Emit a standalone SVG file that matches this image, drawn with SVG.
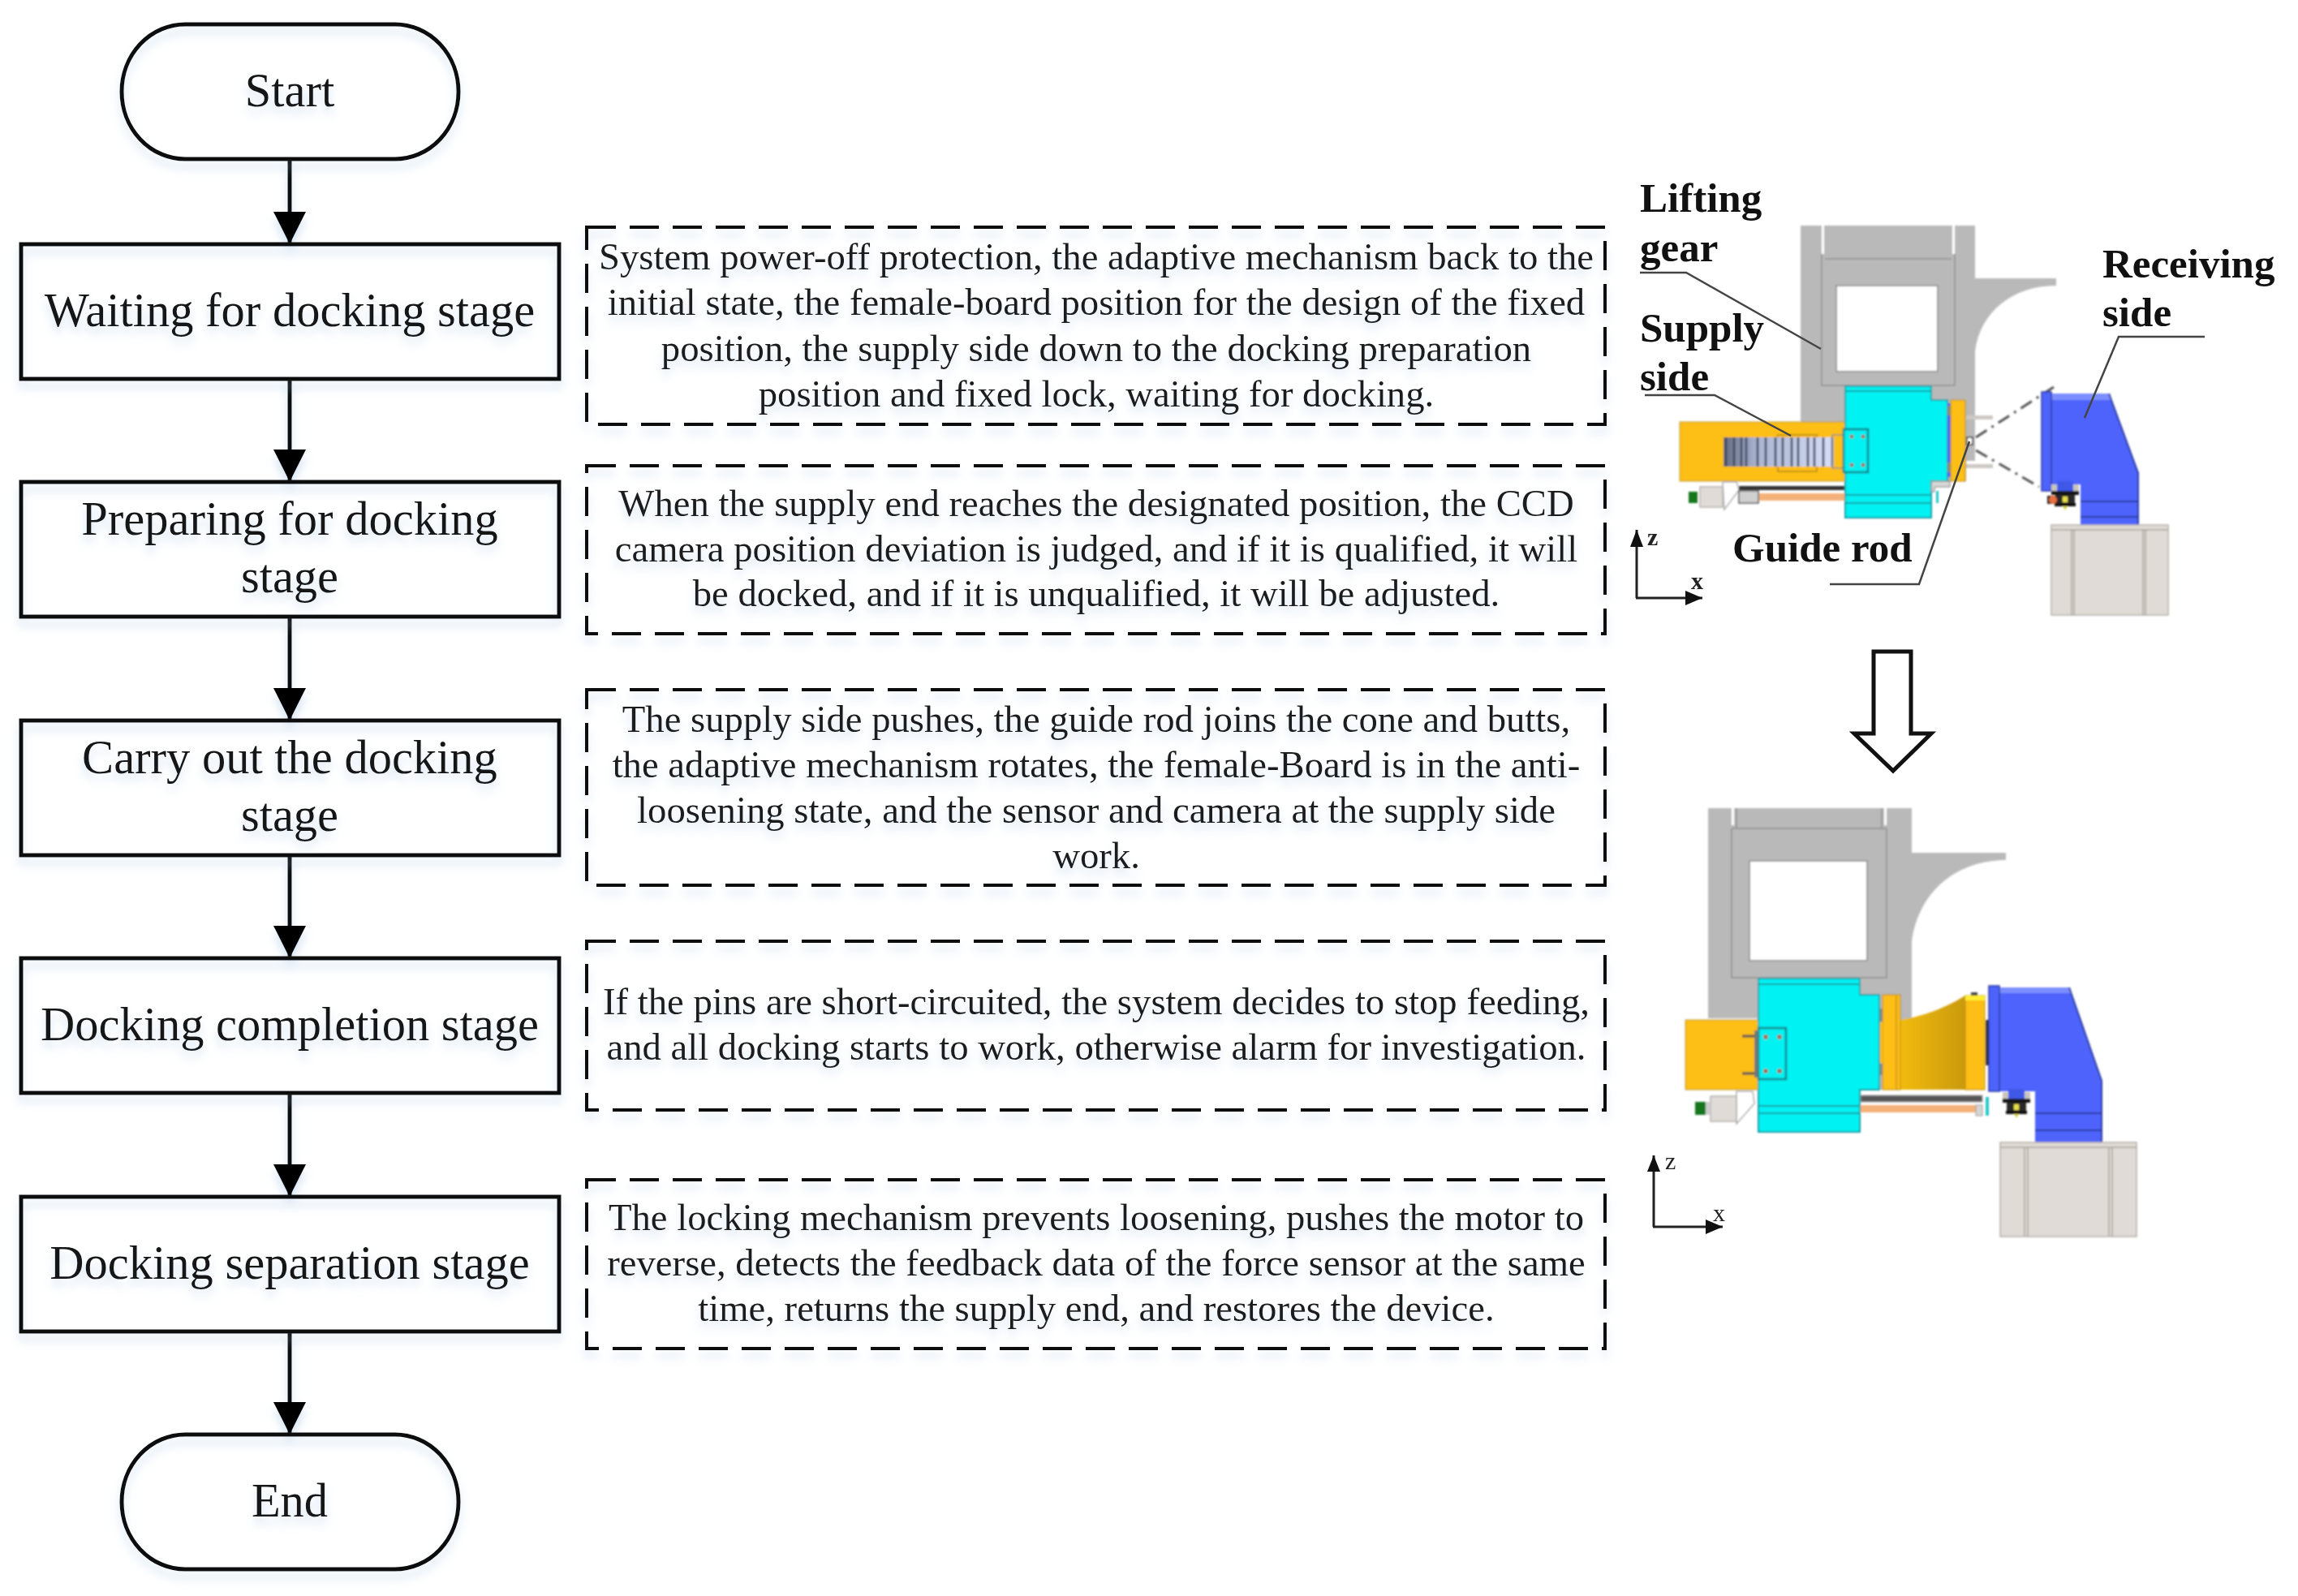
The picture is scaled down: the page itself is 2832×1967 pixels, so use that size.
<svg xmlns="http://www.w3.org/2000/svg" width="2832" height="1967" viewBox="0 0 2832 1967">
<style>
.bg{fill:#fff}
.n{fill:none;stroke:#111;stroke-width:5}
.t{font-family:"Liberation Serif","Times New Roman",serif;font-size:58.5px;fill:#161616;text-anchor:middle}
.d{font-family:"Liberation Serif","Times New Roman",serif;font-size:46.7px;fill:#1c1c1c;text-anchor:middle}
.dash{fill:none;stroke:#111;stroke-width:4;stroke-dasharray:36 17}
.c{fill:none;stroke:#111;stroke-width:5;marker-end:url(#ah)}
.lb{font-family:"Liberation Serif","Times New Roman",serif;font-size:51px;font-weight:bold;fill:#111}
.ax{font-family:"Liberation Serif","Times New Roman",serif;font-size:30px;fill:#222}
.lead{fill:none;stroke:#444;stroke-width:2.5}
.gr{fill:#b9b9b9}
.grl{fill:none;stroke:#8f8f8f;stroke-width:1.5}
.cy{fill:#00f2f2}
.cyl{fill:none;stroke:#12a0a8;stroke-width:2}
.ye{fill:#fdbe14}
.yel{fill:none;stroke:#c79512;stroke-width:1.5}
.bl{fill:#4d63fb}
.bll{fill:none;stroke:#2b3aa0;stroke-width:2}
.ba{fill:#e0dbd6;stroke:#b5b0aa;stroke-width:1.5}
.hole{fill:#a8705c}
.axl{fill:none;stroke:#222;stroke-width:3}
</style>
<defs>
<marker id="ah" markerUnits="userSpaceOnUse" markerWidth="40" markerHeight="40" refX="40" refY="20" orient="auto"><path d="M0 0L40 20L0 40Z" fill="#000"/></marker>
<marker id="ax" markerUnits="userSpaceOnUse" markerWidth="22" markerHeight="18" refX="21" refY="9" orient="auto"><path d="M0 0L21 9L0 18Z" fill="#111"/></marker>
<filter id="sh" x="-10%" y="-15%" width="120%" height="140%"><feDropShadow dx="0" dy="9" stdDeviation="6" flood-color="#9cc0e2" flood-opacity=".42"/></filter>
<filter id="shc" filterUnits="userSpaceOnUse" x="300" y="150" width="120" height="1680"><feDropShadow dx="0" dy="9" stdDeviation="6" flood-color="#9cc0e2" flood-opacity=".42"/></filter>
<filter id="soft" x="-5%" y="-5%" width="110%" height="110%"><feGaussianBlur stdDeviation=".8"/></filter>
<linearGradient id="fun" x1="0" x2="1" y1="0" y2="0"><stop offset="0" stop-color="#f2bb0e"/><stop offset="1" stop-color="#c99a08"/></linearGradient>
<linearGradient id="chain" x1="0" x2="1" y1="0" y2="0"><stop offset="0" stop-color="#646c82"/><stop offset=".3" stop-color="#aab4d0"/><stop offset="1" stop-color="#d6def8"/></linearGradient>
<g id="sensor">
<rect x="-10" y="0" width="20" height="12" fill="#4058e8"/>
<rect x="-17" y="4" width="7" height="9" fill="#c8c4be"/>
<rect x="10" y="4" width="7" height="9" fill="#c8c4be"/>
<rect x="-17" y="12" width="34" height="5" fill="#151515"/>
<rect x="-12" y="17" width="24" height="10" fill="#2a2a2a"/>
<rect x="-3" y="19" width="6" height="7" fill="#e8e04a"/>
<rect x="-13" y="27" width="26" height="4" fill="#111"/>
<path d="M-3 31H3L0 36Z" fill="#d8d050"/>
</g>
</defs>
<rect class="bg" width="2832" height="1967"/>

<g id="connectors" filter="url(#shc)">
<path class="c" d="M357 196V301"/>
<path class="c" d="M357 466V594"/>
<path class="c" d="M357 760V888"/>
<path class="c" d="M357 1054V1181"/>
<path class="c" d="M357 1347V1475"/>
<path class="c" d="M357 1641V1768"/>
</g>

<g id="start" filter="url(#sh)"><rect class="n" x="150" y="30" width="415" height="166" rx="78" ry="83"/><text class="t" x="357" y="131">Start</text></g>
<g id="waiting" filter="url(#sh)"><rect class="n" x="26" y="301" width="663" height="166"/><text class="t" x="357" y="402">Waiting for docking stage</text></g>
<g id="preparing" filter="url(#sh)"><rect class="n" x="26" y="594" width="663" height="166"/><text class="t" x="357" y="659">Preparing for docking</text><text class="t" x="357" y="730">stage</text></g>
<g id="carry" filter="url(#sh)"><rect class="n" x="26" y="888" width="663" height="166"/><text class="t" x="357" y="953">Carry out the docking</text><text class="t" x="357" y="1024">stage</text></g>
<g id="completion" filter="url(#sh)"><rect class="n" x="26" y="1181" width="663" height="166"/><text class="t" x="357" y="1282">Docking completion stage</text></g>
<g id="separation" filter="url(#sh)"><rect class="n" x="26" y="1475" width="663" height="166"/><text class="t" x="357" y="1576">Docking separation stage</text></g>
<g id="end" filter="url(#sh)"><rect class="n" x="150" y="1768" width="415" height="166" rx="78" ry="83"/><text class="t" x="357" y="1869">End</text></g>

<g id="note1" filter="url(#sh)"><rect class="dash" x="723" y="280" width="1255" height="243"/>
<text class="d" x="1351" y="332">System power-off protection, the adaptive mechanism back to the</text>
<text class="d" x="1351" y="388">initial state, the female-board position for the design of the fixed</text>
<text class="d" x="1351" y="445">position, the supply side down to the docking preparation</text>
<text class="d" x="1351" y="501">position and fixed lock, waiting for docking.</text></g>
<g id="note2" filter="url(#sh)"><rect class="dash" x="723" y="574" width="1255" height="207"/>
<text class="d" x="1351" y="636">When the supply end reaches the designated position, the CCD</text>
<text class="d" x="1351" y="692">camera position deviation is judged, and if it is qualified, it will</text>
<text class="d" x="1351" y="747">be docked, and if it is unqualified, it will be adjusted.</text></g>
<g id="note3" filter="url(#sh)"><rect class="dash" x="723" y="850" width="1255" height="241"/>
<text class="d" x="1351" y="902">The supply side pushes, the guide rod joins the cone and butts,</text>
<text class="d" x="1351" y="958">the adaptive mechanism rotates, the female-Board is in the anti-</text>
<text class="d" x="1351" y="1014">loosening state, and the sensor and camera at the supply side</text>
<text class="d" x="1351" y="1070">work.</text></g>
<g id="note4" filter="url(#sh)"><rect class="dash" x="723" y="1160" width="1255" height="208"/>
<text class="d" x="1351" y="1250">If the pins are short-circuited, the system decides to stop feeding,</text>
<text class="d" x="1351" y="1306">and all docking starts to work, otherwise alarm for investigation.</text></g>
<g id="note5" filter="url(#sh)"><rect class="dash" x="723" y="1454" width="1255" height="208"/>
<text class="d" x="1351" y="1516">The locking mechanism prevents loosening, pushes the motor to</text>
<text class="d" x="1351" y="1572">reverse, detects the feedback data of the force sensor at the same</text>
<text class="d" x="1351" y="1628">time, returns the supply end, and restores the device.</text></g>

<g id="assembly-before" filter="url(#soft)">
<path class="gr" d="M2219 278H2434V568H2423V593H2219Z"/>
<path class="gr" d="M2434 343H2534V352C2480 352 2440 385 2434 433Z"/>
<path d="M2245 278V313H2248V278ZM2406 278V313H2409V278Z" fill="#fff"/>
<path class="grl" d="M2245 313V475H2409V313M2249 319H2405"/>
<rect x="2263" y="352" width="125" height="106" fill="#fff" stroke="#9a9a9a" stroke-width="2"/>
<rect x="2423" y="512" width="33" height="5" fill="#cdc9c4"/><rect x="2423" y="572" width="33" height="5" fill="#cdc9c4"/>
<rect class="ye" x="2070" y="520" width="205" height="73" stroke="#bd9a3a" stroke-width="1"/>
<rect x="2191" y="536" width="48" height="45" fill="none" stroke="#c79512" stroke-width="2"/>
<rect x="2124" y="539" width="136" height="36" fill="url(#chain)"/>
<path d="M2127 539V575M2137 539V575M2146 539V575M2152 539V575M2166 539V575M2176 539V575M2188 539V575M2197 539V575M2208 539V575M2216 539V575M2228 539V575M2236 539V575M2247 539V575M2258 539V575" stroke="#3f465c" stroke-width="2.5"/>
<path class="grl" d="M2273 536H2258V577H2273"/>
<path d="M2081 606h11v14h-11z" fill="#15761e"/>
<path d="M2123 594L2140 594L2143 604L2125 628Z" fill="#fff" stroke="#aaa" stroke-width="1.5"/>
<rect class="ba" x="2095" y="600" width="28" height="25"/>
<rect x="2143" y="599" width="131" height="5" fill="#333"/>
<rect x="2143" y="605" width="24" height="15" fill="#d0d0d0" stroke="#555" stroke-width="1.5"/>
<rect x="2168" y="608" width="106" height="9" fill="#f4b27a"/>
<path class="cy" d="M2274 476H2380V493H2400V593H2380V638H2274Z"/>
<path class="cyl" d="M2274 476H2380V493H2400V593H2380V638H2274ZM2274 482H2380M2274 610H2380M2274 620H2380"/>
<rect class="cy" x="2272" y="529" width="30" height="53" stroke="#15838a" stroke-width="2.5"/>
<circle class="hole" cx="2282" cy="538" r="2.5"/><circle class="hole" cx="2296" cy="538" r="2.5"/><circle class="hole" cx="2282" cy="573" r="2.5"/><circle class="hole" cx="2296" cy="573" r="2.5"/>
<path d="M2380 593H2403V600H2384V606H2380Z" fill="#d8d8d8" stroke="#777" stroke-width="1"/>
<rect x="2386" y="605" width="3" height="15" fill="#28c8c8"/>
<rect class="bl" x="2400" y="497" width="4" height="91"/>
<rect x="2400" y="500" width="4" height="12" fill="#888"/><rect x="2400" y="570" width="4" height="12" fill="#888"/>
<rect class="ye" x="2404" y="493" width="18" height="100" stroke="#b98c10" stroke-width="1"/>
<path d="M2424 539h7v9h-7z" fill="#fff" stroke="#222" stroke-width="1.5"/>
<path d="M2435 539L2531 477M2435 555L2513 600" fill="none" stroke="#555" stroke-width="3" stroke-dasharray="16 7 3 7"/>
<path class="bl" d="M2528 485H2599L2635 583V647H2564V597H2528Z"/>
<path d="M2528 485H2599L2602 493H2528Z" fill="#7b8dff"/>
<path class="bll" d="M2564 618H2635M2564 637H2635M2599 485L2635 583V647"/>
<rect class="bl" x="2516" y="483" width="12" height="122" stroke="#2b3aa0" stroke-width="1.5"/>
<use href="#sensor" x="2545" y="593"/>
<rect x="2523" y="611" width="14" height="10" fill="#222"/><circle cx="2530" cy="616" r="5" fill="#e8703f"/>
<rect class="ba" x="2528" y="647" width="144" height="111"/>
<path d="M2528 653H2672M2553 653V758M2556 653V758M2641 653V758M2644 653V758" stroke="#a8a39e" stroke-width="1.5" fill="none"/>
</g>

<g id="assembly-after" filter="url(#soft)">
<path class="gr" d="M2105 996H2356V1255H2105Z"/>
<path class="gr" d="M2356 1051H2472V1060C2415 1060 2365 1095 2356 1161Z"/>
<path d="M2134 996V1017H2137V996ZM2322 996V1017H2325V996Z" fill="#fff"/>
<path class="grl" d="M2134 1021V1205H2325V1021M2134 1021H2325M2140 996V1021M2319 996V1021"/>
<rect x="2156" y="1061" width="145" height="123" fill="#fff" stroke="#9a9a9a" stroke-width="2"/>
<rect class="ye" x="2077" y="1257" width="92" height="86" stroke="#bd9a3a" stroke-width="1"/>
<path d="M2147 1277H2164M2147 1323H2164" stroke="#555" stroke-width="3"/>
<path d="M2089 1358h13v16h-13z" fill="#15761e"/>
<path d="M2140 1345L2160 1345L2162 1360L2140 1385Z" fill="#fff" stroke="#aaa" stroke-width="1.5"/>
<rect class="ba" x="2108" y="1351" width="32" height="31"/>
<path d="M2102 1358h6v16h-6z" fill="#ccc"/>
<path class="gr" d="M2316 1226H2356V1343H2316Z"/>
<path d="M2342 1257Q2385 1250 2422 1227V1343H2342Z" fill="url(#fun)"/>
<rect class="ye" x="2320" y="1226" width="22" height="117" stroke="#b98c10" stroke-width="1"/>
<path d="M2337 1226V1343" stroke="#c79512" stroke-width="1.5"/>
<rect class="ye" x="2316" y="1260" width="4" height="50"/>
<rect x="2316" y="1243" width="4" height="16" fill="#888"/><rect x="2316" y="1311" width="4" height="14" fill="#888"/>
<rect class="ye" x="2422" y="1227" width="24" height="116" stroke="#b98c10" stroke-width="1"/>
<rect x="2422" y="1227" width="24" height="6" fill="#ffee33"/>
<rect x="2429" y="1223" width="8" height="4" fill="#444"/>
<rect x="2447" y="1257" width="4" height="56" fill="#333"/>
<rect x="2293" y="1350" width="150" height="8" fill="#555" stroke="#aaa" stroke-width="1"/>
<rect x="2293" y="1362" width="142" height="9" fill="#f4b27a"/>
<rect x="2435" y="1362" width="8" height="13" fill="#d6d6d6" stroke="#999" stroke-width="1"/>
<rect x="2447" y="1352" width="4" height="23" fill="#28c8c8"/>
<path class="cy" d="M2167 1206H2292V1226H2316V1343H2292V1395H2167Z"/>
<path class="cyl" d="M2167 1206H2292V1226H2316V1343H2292V1395H2167ZM2167 1213H2292M2167 1363H2292M2167 1372H2292"/>
<rect class="cy" x="2167" y="1267" width="34" height="63" stroke="#15838a" stroke-width="2.5"/>
<path d="M2164 1270V1328" stroke="#777" stroke-width="4"/>
<circle class="hole" cx="2176" cy="1278" r="3"/><circle class="hole" cx="2193" cy="1278" r="3"/><circle class="hole" cx="2176" cy="1320" r="3"/><circle class="hole" cx="2193" cy="1320" r="3"/>
<path class="bl" d="M2464 1217H2550L2590 1332V1408H2508V1345H2464Z"/>
<path d="M2464 1217H2550L2553 1224H2464Z" fill="#7b8dff"/>
<path class="bll" d="M2508 1372H2590M2508 1393H2590M2550 1217L2590 1332V1408"/>
<rect class="bl" x="2451" y="1215" width="13" height="130" stroke="#2b3aa0" stroke-width="1.5"/>
<use href="#sensor" x="2485" y="1342"/>
<rect class="ba" x="2465" y="1408" width="168" height="116"/>
<path d="M2465 1414H2633M2495 1414V1524M2499 1414V1524M2599 1414V1524M2603 1414V1524" stroke="#a8a39e" stroke-width="1.5" fill="none"/>
</g>

<g id="leaders">
<path class="lead" d="M2021 336H2078L2244 430"/>
<path class="lead" d="M2027 487H2113L2207 537"/>
<path class="lead" d="M2717 415H2611L2569 515"/>
<path class="lead" d="M2255 720H2365L2427 544"/>
</g>
<g id="labels">
<text class="lb" x="2021" y="261">Lifting</text>
<text class="lb" x="2021" y="322">gear</text>
<text class="lb" x="2021" y="421">Supply</text>
<text class="lb" x="2021" y="481">side</text>
<text class="lb" x="2591" y="342">Receiving</text>
<text class="lb" x="2591" y="402">side</text>
<text class="lb" x="2135" y="692">Guide rod</text>
</g>
<g id="axes-before">
<path class="axl" d="M2017 737V653M2016 737H2098" style="marker-end:url(#ax)"/>
<path d="M2017 653l8 21h-16z" fill="#111"/>
<text class="ax" x="2030" y="672" font-weight="bold">z</text>
<text class="ax" x="2084" y="726" font-weight="bold">x</text>
</g>
<g id="axes-after">
<path class="axl" d="M2038 1512V1424M2037 1512H2123" style="marker-end:url(#ax)"/>
<path d="M2038 1424l8 20h-16z" fill="#111"/>
<text class="ax" x="2052" y="1441">z</text>
<text class="ax" x="2111" y="1505">x</text>
</g>
<g id="block-arrow"><path d="M2309 803H2355V904H2380L2333 950L2285 904H2309Z" fill="#fff" stroke="#111" stroke-width="5"/></g>
</svg>
